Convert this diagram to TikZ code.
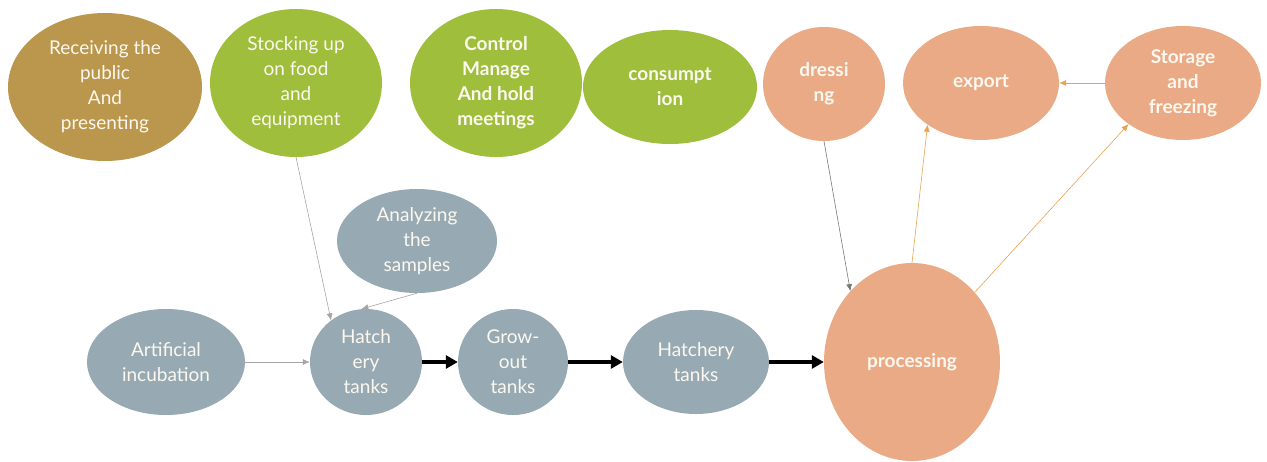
\documentclass[tikz,border=0pt]{standalone}
\usepackage{fontspec}
\setmainfont{Lato}
\usetikzlibrary{shapes.geometric,arrows.meta}
\definecolor{cbrown}{RGB}{186,151,76}
\definecolor{cgreen}{RGB}{158,190,60}
\definecolor{corange}{RGB}{234,170,134}
\definecolor{cgray}{RGB}{151,170,179}
\definecolor{agray}{RGB}{165,165,165}
\definecolor{adark}{RGB}{120,122,110}
\definecolor{aorange}{RGB}{232,162,80}
\definecolor{ctext}{RGB}{252,248,240}
\tikzset{
  blob/.style={ellipse, inner sep=0pt, text=ctext, align=center,
    font=\fontsize{19}{25}\selectfont},
  bblob/.style={blob, font=\fontsize{19}{25}\selectfont\bfseries},
  thin arrow/.style={-{Latex[length=7pt,width=6pt]}, line width=0.6pt},
  thick arrow/.style={-{Triangle[length=12pt,width=13pt]}, line width=3.5pt, black},
}
\begin{document}
\begin{tikzpicture}[x=1pt,y=-1pt]
\useasboundingbox (0,0) rectangle (1267,461);
% top row
\node[blob, fill=cbrown, minimum width=194pt, minimum height=148pt] (recv) at (105,87) {Receiving the\\public\\And\\presenting};
\node[blob, fill=cgreen, minimum width=172pt, minimum height=148pt] (stock) at (296,83) {Stocking up\\on food\\and\\equipment};
\node[bblob, fill=cgreen, minimum width=172pt, minimum height=148pt] (ctrl) at (496,83) {Control\\Manage\\And hold\\meetings};
\node[bblob, fill=cgreen, minimum width=174pt, minimum height=114pt] (cons) at (670,87) {consumpt\\ion};
\node[bblob, fill=corange, minimum width=122pt, minimum height=114pt] (dress) at (824,84) {dressi\\ng};
\node[bblob, fill=corange, minimum width=156pt, minimum height=114pt] (export) at (981,83) {export};
\node[bblob, fill=corange, minimum width=156pt, minimum height=114pt] (store) at (1183,83) {Storage\\and\\freezing};
% lower
\node[blob, fill=cgray, minimum width=160pt, minimum height=104pt] (anal) at (417,241) {Analyzing\\the\\samples};
\node[blob, fill=cgray, minimum width=158pt, minimum height=106pt] (art) at (166,362) {Artificial\\incubation};
\node[blob, fill=cgray, minimum width=112pt, minimum height=106pt] (hatch1) at (366,362) {Hatch\\ery\\tanks};
\node[blob, fill=cgray, minimum width=110pt, minimum height=106pt] (grow) at (513,362) {Grow-\\out\\tanks};
\node[blob, fill=cgray, minimum width=146pt, minimum height=104pt] (hatch2) at (696,362) {Hatchery\\tanks};
\node[bblob, fill=corange, minimum width=176pt, minimum height=198pt] (proc) at (912,362) {processing};
% connectors
\draw[thin arrow, agray] (stock.south) -- (hatch1.130);
\draw[thin arrow, agray] (anal.south) -- (hatch1.95);
\draw[thin arrow, agray] (art.east) -- (hatch1.west);
\draw[thick arrow] (hatch1.east) -- (grow.west);
\draw[thick arrow] (grow.east) -- (hatch2.west);
\draw[thick arrow] (hatch2.east) -- (proc.west);
\draw[thin arrow, adark] (dress.south) -- (proc.131);
\draw[thin arrow, aorange] (proc.north) -- (export.218);
\draw[thin arrow, aorange] (proc.48) -- (store.217);
\draw[thin arrow, aorange] (store.west) -- (export.east);
\end{tikzpicture}
\end{document}
